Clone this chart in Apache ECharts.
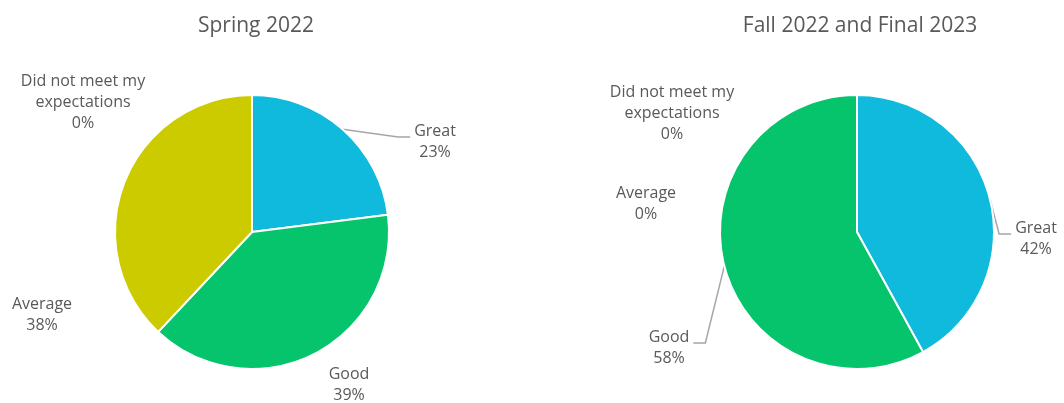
<!DOCTYPE html>
<html>
<head>
<meta charset="utf-8">
<script src="https://cdn.jsdelivr.net/npm/echarts@6/dist/echarts.min.js"></script>
<style>
  html, body { margin: 0; padding: 0; background: #ffffff; }
  #chart { width: 1064px; height: 403px; }
</style>
</head>
<body>
<div id="chart"></div>
<script>
// Survey responses, clockwise from 12 o'clock
const categories = ['Great', 'Good', 'Average', 'Did not meet my\nexpectations'];
const spring2022 = [23, 39, 38, 0];
const fall2022Final2023 = [42, 58, 0, 0];
const titles = ['Spring 2022', 'Fall 2022 and Final 2023'];

const colors = ['#0fbadd', '#05c46b', '#cbcb00', '#9e9e9e'];
const textColor = '#595959';
const fontFamily = '"Open Sans", Roboto, sans-serif';

// Label anchor points (centre of each text block) for each pie
const labelSpots = [
  [[435, 142], [349, 385], [42, 315], [83, 102]],
  [[1036, 239], [669, 348], [646, 204], [672, 113]]
];
// Which slices get a leader line
const leaderLines = [
  [true, false, false, false],
  [true, true, false, false]
];
const pieCenters = [[252, 232], [857, 232]];

function buildData(values, pieIndex) {
  return categories.map((name, i) => ({
    name: name,
    value: values[i],
    itemStyle: { color: colors[i] },
    labelLine: { show: leaderLines[pieIndex][i] }
  }));
}

function pieSeries(values, pieIndex) {
  const center = pieCenters[pieIndex];
  return {
    type: 'pie',
    center: center,
    radius: 137,
    startAngle: 90,
    clockwise: true,
    animation: false,
    silent: true,
    avoidLabelOverlap: false,
    itemStyle: { borderColor: '#ffffff', borderWidth: 2 },
    label: {
      show: true,
      position: 'outside',
      formatter: p => p.name + '\n' + Math.round(p.value) + '%',
      color: textColor,
      fontFamily: fontFamily,
      fontSize: 16,
      lineHeight: 21,
      align: 'center'
    },
    labelLine: {
      show: true,
      length: 10,
      length2: 14,
      lineStyle: { color: '#a6a6a6', width: 1.5 }
    },
    labelLayout: function (params) {
      const spot = labelSpots[pieIndex][params.dataIndex];
      const out = { x: spot[0], y: spot[1], align: 'center', verticalAlign: 'middle' };
      const pts = params.labelLinePoints;
      if (leaderLines[pieIndex][params.dataIndex] && pts && pts.length) {
        // Leader runs from the slice edge to a short elbow beside the text
        const dir = spot[0] > center[0] ? 1 : -1;
        const textEdge = spot[0] - dir * params.labelRect.width / 2;
        const y = spot[1] - 5;
        out.labelLinePoints = [
          pts[0],
          [textEdge - dir * 16, y],
          [textEdge - dir * 4, y]
        ];
      }
      return out;
    },
    data: buildData(values, pieIndex)
  };
}

const titleStyle = { color: textColor, fontFamily: fontFamily, fontSize: 21, fontWeight: 'normal' };

const chart = echarts.init(document.getElementById('chart'), null, { renderer: 'canvas' });
chart.setOption({
  backgroundColor: '#ffffff',
  title: [
    { text: titles[0], left: 251, top: 11, textAlign: 'center', textStyle: titleStyle },
    { text: titles[1], left: 855, top: 11, textAlign: 'center', textStyle: titleStyle }
  ],
  series: [
    pieSeries(spring2022, 0),
    pieSeries(fall2022Final2023, 1)
  ]
});
</script>
</body>
</html>
